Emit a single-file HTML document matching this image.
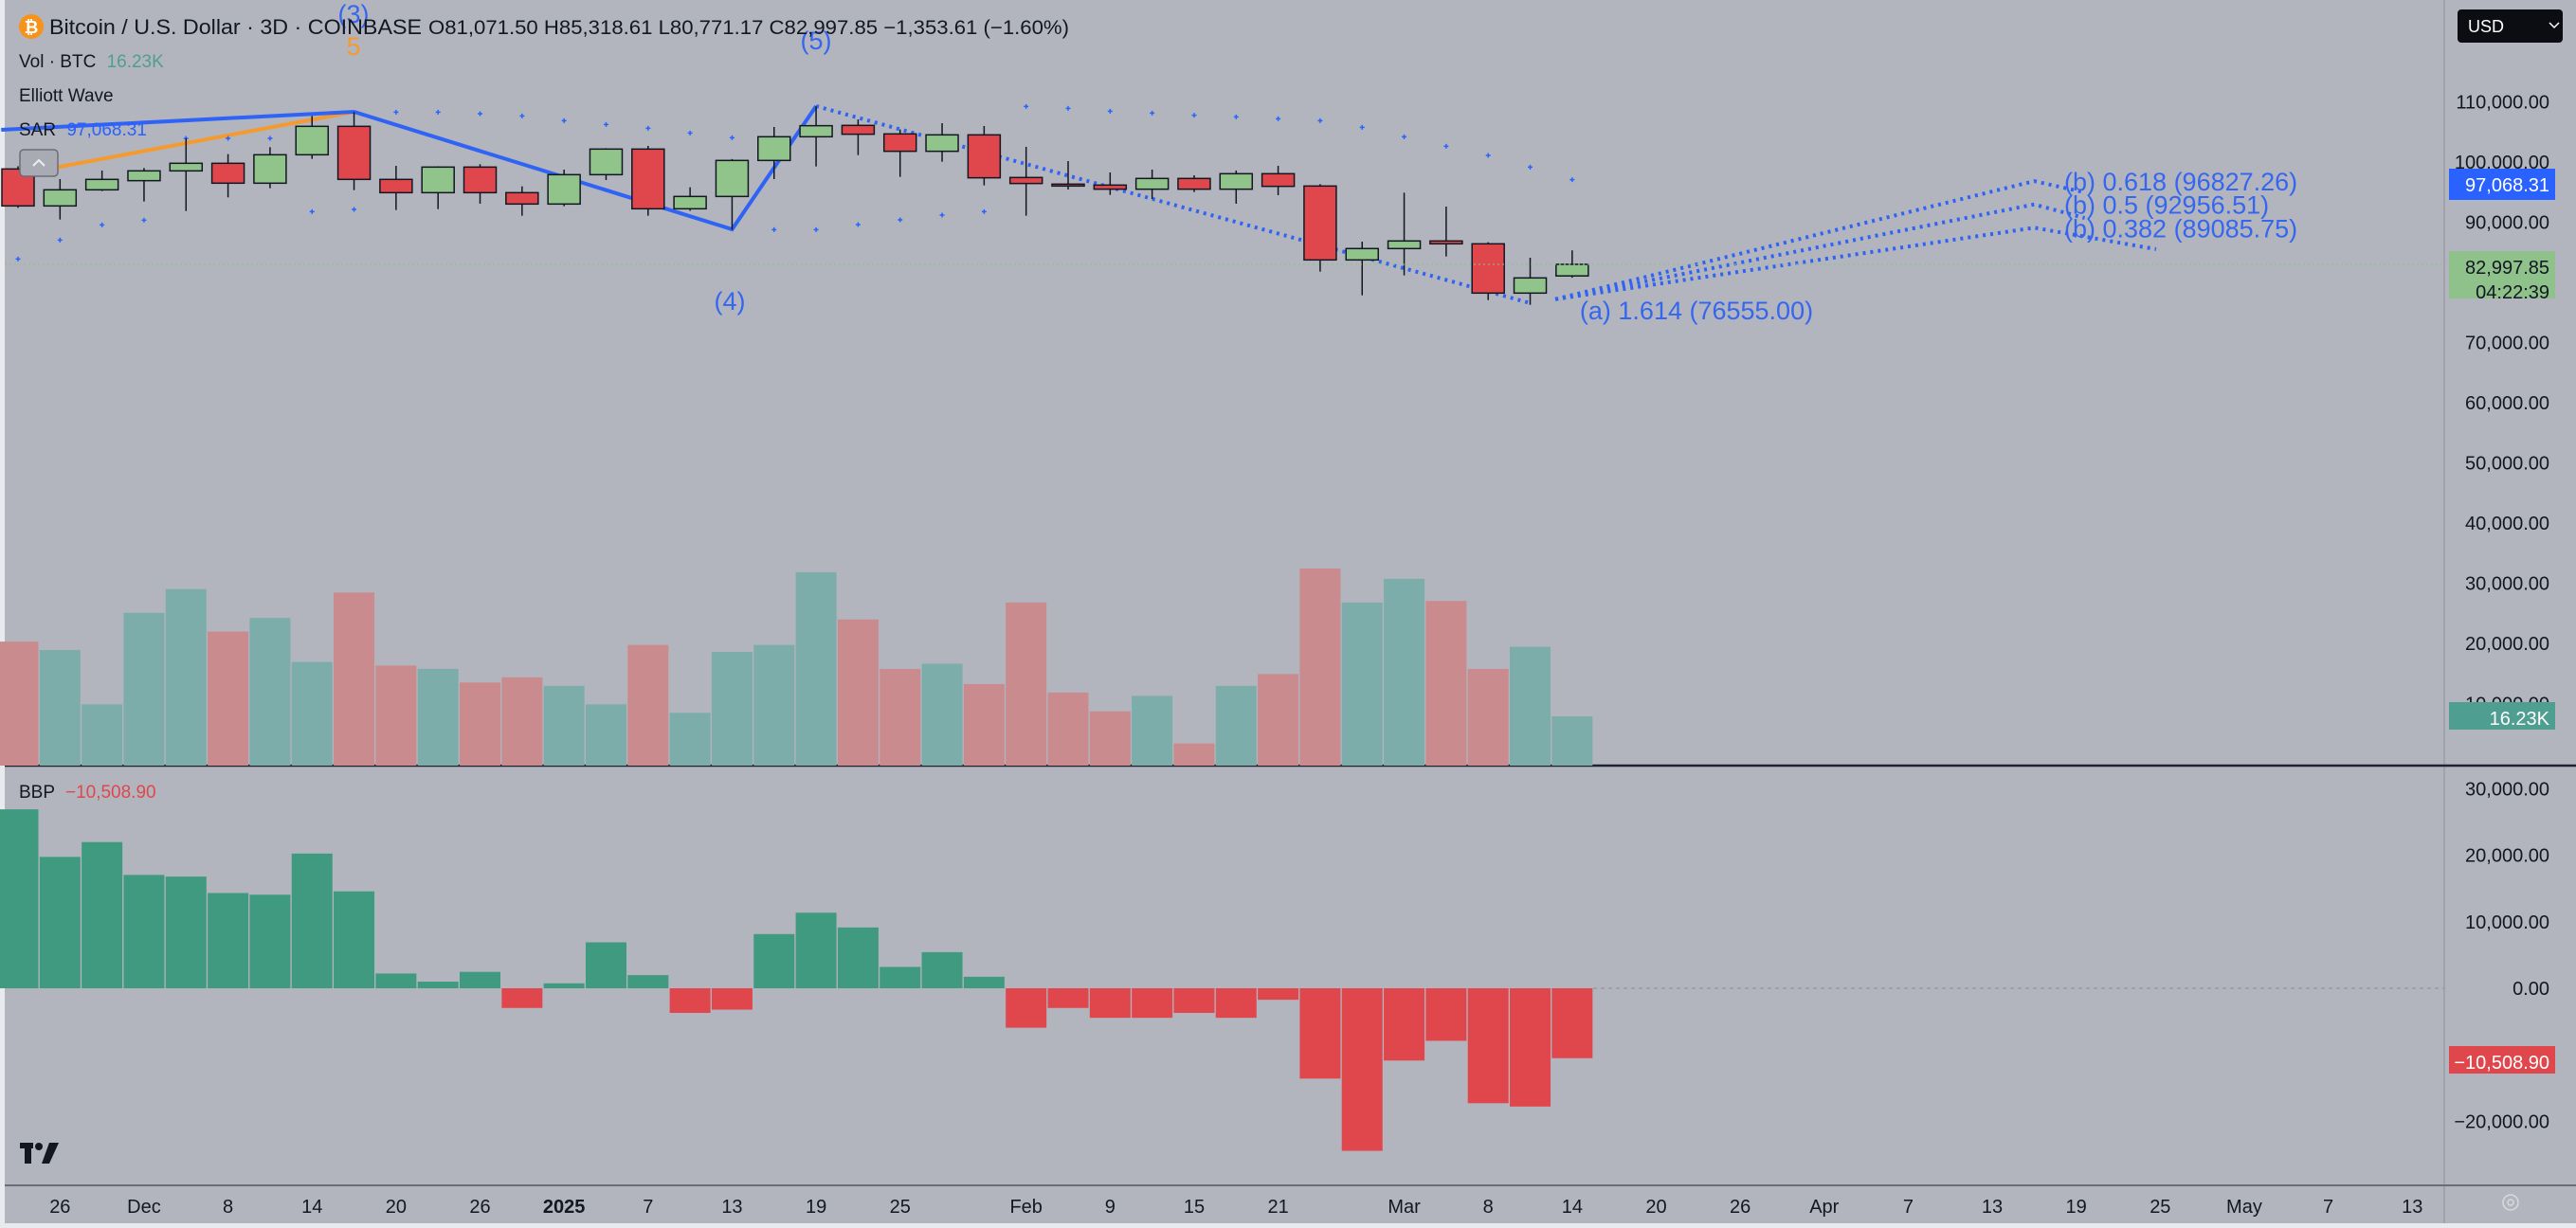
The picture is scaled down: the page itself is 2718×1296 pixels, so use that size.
<!DOCTYPE html>
<html><head><meta charset="utf-8">
<style>
html,body{margin:0;padding:0;background:#b2b5be;}
svg{display:block;font-family:"Liberation Sans",sans-serif;}
</style></head>
<body>
<svg id="chart" xmlns="http://www.w3.org/2000/svg" width="2718" height="1296" viewBox="0 0 2718 1296">
<rect x="0" y="0" width="2718" height="1296" fill="#b2b5be"/>
<rect x="0" y="0" width="5" height="1296" fill="#e9eaee"/>
<rect x="0" y="1291" width="2718" height="5" fill="#e9eaee"/>
<line x1="2579" y1="0" x2="2579" y2="1291" stroke="#9a9da6" stroke-width="1.5"/>
<line x1="5" y1="808" x2="2718" y2="808" stroke="#1e2130" stroke-width="2.5"/>
<line x1="5" y1="1251" x2="2718" y2="1251" stroke="#6a6d78" stroke-width="2"/>
<g id="vol"></g>
<g id="bbp"></g>
<g id="waves"></g>
<g id="sar"></g>
<g id="candles"></g>
<g id="axes"></g>

<circle cx="33" cy="28" r="13" fill="#f7931a"/>
<text x="33" y="35" font-size="18" font-weight="bold" fill="#fff" text-anchor="middle">₿</text>
<text x="52" y="36" font-size="22" fill="#131722" textLength="393" lengthAdjust="spacingAndGlyphs">Bitcoin / U.S. Dollar · 3D · COINBASE</text>
<text x="452" y="36" font-size="21" fill="#131722" textLength="676" lengthAdjust="spacingAndGlyphs">O81,071.50  H85,318.61  L80,771.17  C82,997.85  −1,353.61 (−1.60%)</text>
<text x="20" y="71" font-size="19" fill="#131722">Vol · BTC <tspan fill="#4f9e92" dx="6">16.23K</tspan></text>
<text x="20" y="107" font-size="19" fill="#131722">Elliott Wave</text>
<text x="20" y="143" font-size="19" fill="#131722">SAR <tspan fill="#2962ff" dx="6">97,068.31</tspan></text>
<rect x="21" y="158" width="40" height="28" rx="4" fill="#a8abb4" stroke="#6a6d78" stroke-width="1.5"/>
<path d="M35 175 L41 169 L47 175" fill="none" stroke="#eceef2" stroke-width="2"/>
<text x="20" y="842" font-size="19" fill="#131722">BBP <tspan fill="#e0474c" dx="6">−10,508.90</tspan></text>
<rect x="2593" y="10" width="111" height="35" rx="4" fill="#0b0d12"/>
<text x="2604" y="34" font-size="18" fill="#fff">USD</text>
<path d="M2690 24 l5 5 l5 -5" fill="none" stroke="#fff" stroke-width="1.5"/>
<g>
<rect x="21" y="1206" width="14" height="6" fill="#131722"/><rect x="26" y="1206" width="7" height="22" fill="#131722"/>
<circle cx="41" cy="1210" r="4" fill="#131722"/><path d="M52 1206 L62 1206 L52 1228 L44 1228 Z" fill="#131722"/>
</g>
<circle cx="2649" cy="1269" r="8" fill="none" stroke="#d8dae0" stroke-width="1.5"/>
<circle cx="2649" cy="1269" r="3" fill="none" stroke="#d8dae0" stroke-width="1.5"/>
</svg>

<script>
const opens  = [98846,92705,95382,96904,98531,99791,96484,101208,105932,97114,94909,99161,94909,93020,97902,102153,92232,94279,100263,104200,106090,104672,101786,104515,97430,96327,96170,95487,97272,95487,98059,96012,83729,85619,86879,86406,78217,81071.5];
const highs  = [99300,97166,98584,99004,103938,101313,102468,107664,108294,99371,99300,99634,95959,98741,102300,102678,95802,100500,105827,109239,107087,105408,106457,105985,102520,100158,98269,98741,97797,98584,99371,96327,86774,94909,92600,86669,84097,85318.61];
const lows   = [92390,90448,95172,93440,91865,94122,95644,100526,95329,92022,92180,93072,91077,92650,97009,91077,91900,88768,97166,99266,101156,97534,100053,96117,91077,95434,94542,93860,95014,93072,94490,81787,77850,81157,84306,77062,76275,80771.17];
const closes = [92705,95382,97114,98531,99791,96484,101208,105932,97114,94909,99161,94909,93020,97902,102153,92232,94279,100263,104200,106038,104620,101786,104515,97377,96432,96200,95487,97272,95487,98059,95959,83729,85619,86879,86406,78217,80737,82997.85];
const volumesK = [40.9,38.1,20.2,50.4,58.2,44.2,48.7,34.2,57.1,33.0,31.9,27.4,29.1,26.3,20.2,39.8,17.4,37.5,39.8,63.8,48.2,31.9,33.6,26.9,53.8,24.1,17.9,23.0,7.3,26.3,30.2,65.0,53.8,61.6,54.3,31.9,39.2,16.23];
const bbpValues = [26900,19750,21980,17040,16790,14320,14070,20250,14570,2220,990,2470,-2960,740,6910,1980,-3700,-3210,8150,11360,9140,3210,5430,1730,-5930,-2960,-4440,-4440,-3700,-4440,-1730,-13580,-24440,-10860,-7900,-17280,-17780,-10508.9];
const sarValues = [83886,87035,89555,90342,103938,103938,103938,91760,92127,108294,108294,108032,107664,106878,106248,105617,104830,104043,88768,88768,89608,90395,91183,91760,109239,108924,108452,108137,107770,107507,107192,106878,105776,104200,102626,101103,99161,97068.31];
const priceTicks = [110000,100000,90000,70000,60000,50000,40000,30000,20000,10000];
const bbpTicks = [30000,20000,10000,0,-20000];
const timeLabels = ["26","Dec","8","14","20","26","2025","7","13","19","25","Feb","9","15","21","Mar","8","14","20","26","Apr","7","13","19","25","May","7","13"];
const timeIdx = [1,3,5,7,9,11,13,15,17,19,21,24,26,28,30,33,35,37,39,41,43,45,47,49,51,53,55,57];
const waveBlueIdx = [-0.4,8,17,19];
const waveBluePrice = [105354,108346,88819,109291];
const waveOrangeIdx = [0.27,8];
const waveOrangePrice = [98268,108346];
const waveAIdx = [19,36];
const waveAPrice = [109291,76555];
const fibLabels = ["(b) 0.618 (96827.26)","(b) 0.5 (92956.51)","(b) 0.382 (89085.75)"];
const fibPrices = [96827.26,92956.51,89085.75];
const fibTailIdx = [49.2,49.2,50.9];
const fibTailPrice = [94960,90700,85512];

const cx = i => 19 + 44.32*i;
const py = p => 171 + (100000-p)*0.00635;
const vy = v => 808 - v*3.2;
const by = v => 1043 - v*0.00702;
const NS = "http://www.w3.org/2000/svg";
function mk(tag, attrs, parent){const e=document.createElementNS(NS,tag);for(const k in attrs)e.setAttribute(k,attrs[k]);parent.appendChild(e);return e;}
const gC=document.getElementById('candles'),gV=document.getElementById('vol'),gB=document.getElementById('bbp'),gS=document.getElementById('sar'),gW=document.getElementById('waves'),gA=document.getElementById('axes');
const fmt = v => v.toLocaleString('en-US',{minimumFractionDigits:2,maximumFractionDigits:2});

let cl = mk('line',{x1:5,y1:py(closes[closes.length-1]),x2:2579,y2:py(closes[closes.length-1]),stroke:'#8fc18b','stroke-width':1,'stroke-dasharray':'2 3'},gA);


let zl = mk('line',{x1:1681,y1:by(0),x2:2579,y2:by(0),stroke:'#8a8d96','stroke-width':1,'stroke-dasharray':'4 4'},gA);



for(let i=0;i<opens.length;i++){
  const up = closes[i]>=opens[i];
  const x = cx(i);
  const vb = mk('rect',{x:x-21.5,y:vy(volumesK[i]),width:43,height:808-vy(volumesK[i]),fill:up?'#7cadab':'#c98b8d'},gV);
  
  
  const b = bbpValues[i];
  const bb = mk('rect',{x:x-21.5,y:Math.min(by(b),by(0)),width:43,height:Math.abs(by(b)-by(0)),fill:b>=0?'#3f9a80':'#e0474c'},gB);
  
  
  const w = mk('line',{x1:x,y1:py(highs[i]),x2:x,y2:py(lows[i]),stroke:'#131722','stroke-width':1.5},gC);
  
  
  const top=py(Math.max(opens[i],closes[i])), bot=py(Math.min(opens[i],closes[i]));
  const r = mk('rect',{x:x-17,y:top,width:34,height:Math.max(bot-top,2),fill:up?'#90c48b':'#e0474c',stroke:'#131722','stroke-width':1.5},gC);
  
  
  const s = mk('path',{d:`M${x-2.5} ${py(sarValues[i])}h5M${x} ${py(sarValues[i])-2.5}v5`,stroke:'#2962ff','stroke-width':1.5},gS);
  
  
}

function poly(idx,pr,attrs,name){
  const pts = idx.map((v,k)=>cx(v)+','+py(pr[k])).join(' ');
  const p = mk('polyline',Object.assign({points:pts,fill:'none'},attrs),gW);
  
  
}
poly(waveOrangeIdx,waveOrangePrice,{stroke:'#f59a2e','stroke-width':4},'wave-orange-line');
poly(waveBlueIdx,waveBluePrice,{stroke:'#2f63f5','stroke-width':4},'wave-blue-line');
poly(waveAIdx,waveAPrice,{stroke:'#2f63f5','stroke-width':4,'stroke-dasharray':'3 5'},'wave-a-projection');
for(let k=0;k<fibPrices.length;k++){
  poly([36.6,48,fibTailIdx[k]],[77200,fibPrices[k],fibTailPrice[k]],{stroke:'#2f63f5','stroke-width':4,'stroke-dasharray':'3 5'},'wave-b-projection');
  const t = mk('text',{x:2178,y:py(fibPrices[k])+10,'font-size':27,fill:'#3566f0'},gW);
  t.textContent = fibLabels[k];
  
  
}
function wlabel(txt,x,y,col,name){const t=mk('text',{x:x,y:y,'font-size':27,fill:col,'text-anchor':'middle'},gW);t.textContent=txt;}
wlabel('(a) 1.614 (76555.00)',1790,337,'#3566f0','fib-a-label');
wlabel('(3)',373,24,'#3566f0','wave-3-label');
wlabel('5',373,58,'#f59a2e','wave-5-orange-label');
wlabel('(5)',861,52,'#3566f0','wave-5-label');
wlabel('(4)',770,327,'#3566f0','wave-4-label');

for(const p of priceTicks){
  const t=mk('text',{x:2690,y:py(p)+7,'font-size':20,fill:'#131722','text-anchor':'end'},gA);
  t.textContent=fmt(p);
  
  
}
function tag(y,h,fill,lines,col,name){
  const r=mk('rect',{x:2584,y:y,width:112,height:h,fill:fill},gA);
  
  
  lines.forEach((s,k)=>{const t=mk('text',{x:2690,y:y+24+k*26,'font-size':20,fill:col,'text-anchor':'end'},gA);t.textContent=s;});
}
tag(178,33,'#2962ff',['97,068.31'],'#fff','sar-price-tag');
tag(265,50,'#8fc18b',['82,997.85','04:22:39'],'#131722','last-price-tag');
tag(741,29,'#4f9e92',['16.23K'],'#fff','volume-tag');
tag(1104,29,'#e0474c',['−10,508.90'],'#fff','bbp-value-tag');
for(const v of bbpTicks){
  const t=mk('text',{x:2690,y:by(v)+7,'font-size':20,fill:'#131722','text-anchor':'end'},gA);
  t.textContent=(v<0?'−':'')+fmt(Math.abs(v));
  
  
}
for(let k=0;k<timeLabels.length;k++){
  const t=mk('text',{x:cx(timeIdx[k]),y:1280,'font-size':20,fill:'#131722','text-anchor':'middle','font-weight':timeLabels[k]==='2025'?'bold':'normal'},gA);
  t.textContent=timeLabels[k];
  
  
}
</script>
</body></html>
